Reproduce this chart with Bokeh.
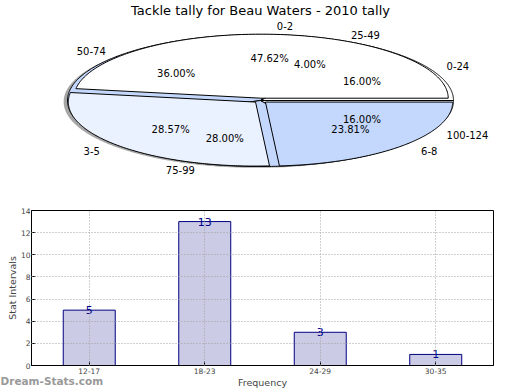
import numpy as np
from bokeh.plotting import figure
from bokeh.models import (ColumnDataSource, Range1d, Label, SingleIntervalTicker, FactorRange)
from bokeh.layouts import column
from bokeh.embed import file_html
from bokeh.resources import INLINE
from bokeh.core.properties import value, field

# ---------------- data ----------------
TITLE = "Tackle tally for Beau Waters - 2010 tally"

pie1_labels = ["0-2", "3-5", "6-8"]
pie1_values = [10, 6, 5]

pie2_labels = ["0-24", "25-49", "50-74", "75-99", "100-124"]
pie2_values = [4, 1, 9, 7, 4]

bar_categories = ["12-17", "18-23", "24-29", "30-35"]
bar_values = [5, 13, 3, 1]

y_max = 14
y_tick_step = 2

FONT_NAME = "DejaVu Sans"
FONT = value(FONT_NAME)

# ---------------- layout constants (pixels) ----------------
W = 520
PIE_H = 195
BAR_H = 195
LEFT, RIGHT = 31, 27           # frame borders shared by both figures
TOP2 = 15                      # bar figure top border
CX, CY = 260.0, 100.0          # pie centre on the page
RX, RY = 193.0, 66.0           # pie half-axes in pixels

# ---------------- pie figure ----------------
WHITE, PALE, LIGHT = "#ffffff", "#ebf2ff", "#c4d8fd"
pie1_colors = [WHITE, PALE, LIGHT]
pie2_colors = [WHITE, PALE, LIGHT, LIGHT, PALE]

p1 = figure(width=W, height=PIE_H, output_backend="svg", toolbar_location=None,
            x_range=Range1d((LEFT - CX) / RX, (W - RIGHT - CX) / RX),
            y_range=Range1d((CY - PIE_H) / RY, CY / RY),
            x_axis_type=None, y_axis_type=None,
            min_border_left=LEFT, min_border_right=RIGHT,
            min_border_top=0, min_border_bottom=0)
p1.grid.visible = False
p1.outline_line_color = None
p1.background_fill_color = "white"


def wedges(values, r, explode, off=(0.0, 0.0)):
    total = float(sum(values))
    xs, ys, mids, centers = [], [], [], []
    start = 0.0
    for v in values:
        a0 = 2 * np.pi * start / total
        a1 = 2 * np.pi * (start + v) / total
        mid = 0.5 * (a0 + a1)
        dx = explode * np.cos(mid) + off[0]
        dy = explode * np.sin(mid) + off[1]
        t = np.linspace(a0, a1, 160)
        xs.append(list(np.concatenate([[dx], dx + r * np.cos(t), [dx]])))
        ys.append(list(np.concatenate([[dy], dy + r * np.sin(t), [dy]])))
        mids.append(mid)
        centers.append((dx, dy))
        start += v
    return xs, ys, mids, centers


# shadow of the back pie
sx, sy, _, _ = wedges(pie2_values, 1.0, 0.0, off=(-0.02, -0.02))
p1.patches(sx, sy, fill_color="#4d4d4d", fill_alpha=0.5, line_color=None)

# back pie
x2, y2, m2, c2 = wedges(pie2_values, 1.0, 0.0)
p1.patches(x2, y2, fill_color=pie2_colors, line_color="black", line_width=1)

# front pie (exploded)
x1, y1, m1, c1 = wedges(pie1_values, 0.97, 0.035)
p1.patches(x1, y1, fill_color=pie1_colors, line_color="black", line_width=1)


def label_source(labels, values, mids, centers):
    total = float(sum(values))
    lx, ly, la, px, py, pt = [], [], [], [], [], []
    for lab, v, m, (cx, cy) in zip(labels, values, mids, centers):
        lx.append(cx + 1.1 * np.cos(m))
        ly.append(cy + 1.1 * np.sin(m))
        la.append("left" if np.cos(m) >= 0 else "right")
        px.append(cx + 0.6 * np.cos(m))
        py.append(cy + 0.6 * np.sin(m))
        pt.append("%.2f%%" % (100.0 * v / total))
    return (ColumnDataSource(dict(x=lx, y=ly, text=list(labels), align=la)),
            ColumnDataSource(dict(x=px, y=py, text=pt)))


for labs, vals, mids, cens in [(pie2_labels, pie2_values, m2, c2),
                               (pie1_labels, pie1_values, m1, c1)]:
    ls, ps = label_source(labs, vals, mids, cens)
    p1.text(x="x", y="y", text="text", source=ls, text_align=field("align"),
            text_baseline="middle", text_font=FONT, text_font_size="10px",
            text_color="black")
    p1.text(x="x", y="y", text="text", source=ps, text_align="center",
            text_baseline="middle", text_font=FONT, text_font_size="10px",
            text_color="black")

p1.add_layout(Label(x=0, y=(CY - 10) / RY, text=TITLE, text_align="center",
                    text_baseline="middle", text_font=FONT_NAME, text_font_size="13px",
                    text_color="black"))

# ---------------- bar figure ----------------
p2 = figure(width=W, height=BAR_H, output_backend="svg", toolbar_location=None,
            x_range=FactorRange(*bar_categories), y_range=Range1d(0, y_max),
            min_border_top=TOP2, min_border_left=LEFT, min_border_right=RIGHT,
            min_border_bottom=0)

p2.vbar(x=bar_categories, top=bar_values, width=0.45, fill_color="#cbcbe6",
        line_color="#000080", line_width=1)
p2.text(x=bar_categories, y=bar_values, text=[str(v) for v in bar_values],
        text_align="center", text_baseline="alphabetic", text_font=FONT,
        text_font_size="11px", text_color="#00008b")

p2.outline_line_color = "black"
p2.outline_line_alpha = 1
p2.outline_line_width = 1
for g in (p2.xgrid, p2.ygrid):
    g.grid_line_color = "#a0a0a0"
    g.grid_line_dash = "1 2"
    g.grid_line_width = 1
    g.level = "overlay"

p2.yaxis.ticker = SingleIntervalTicker(interval=y_tick_step)
p2.yaxis.axis_label = "Stat Intervals"
p2.xaxis.axis_label = "Frequency"
for ax in (p2.xaxis, p2.yaxis):
    ax.major_tick_in = 4
    ax.major_tick_out = 0
    ax.minor_tick_in = 0
    ax.minor_tick_out = 0
    ax.minor_tick_line_color = None
    ax.major_label_text_font = FONT_NAME
    ax.major_label_text_font_size = "7.5px"
    ax.major_label_standoff = 1
    ax.axis_line_color = "black"
    ax.axis_label_text_font = FONT_NAME
    ax.axis_label_text_font_size = "9.5px"
    ax.axis_label_text_font_style = "normal"
    ax.axis_label_standoff = 0
p2.xaxis.major_label_standoff = 2

# site watermark near the bottom-left page corner; it lives in the (roomy) top
# border panel so that it takes no height from the plot frame
p2.add_layout(Label(x=-LEFT, y=-(BAR_H - TOP2 - 4), x_units="screen", y_units="screen",
                    text="Dream-Stats.com", text_baseline="bottom",
                    text_font=FONT_NAME, text_font_size="10.5px",
                    text_font_style="bold", text_color="#999999"), "above")

layout = column(p1, p2)
open("out.html", "w").write(file_html(layout, INLINE))
